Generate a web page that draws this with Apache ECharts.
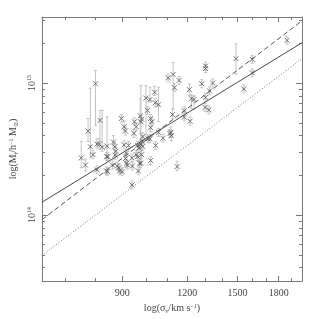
<!DOCTYPE html>
<html><head><meta charset="utf-8">
<script src="https://cdn.jsdelivr.net/npm/echarts@6/dist/echarts.min.js"></script>
<style>html,body{margin:0;padding:0;background:#fff}#c{width:319px;height:319px}</style>
</head><body><div id="c"></div>
<script>
// velocity dispersion sigma_v (km/s)
const sigma = [
  800,774,816,782,791,805,814,824,842,751,
  765,840,845,805,840,844,866,871,875,872,
  862,881,887,890,900,897,908,913,908,917,
  913,918,921,926,940,942,948,950,958,975,
  981,978,964,970,978,983,986,958,964,972,
  978,981,986,967,940,1009,1018,1021,1027,1021,
  1000,1018,1007,1039,1042,1057,1044,1021,1078,1057,
  1116,1119,1112,1125,1103,1128,1158,1135,1185,1185,
  1216,1212,1223,1237,1280,1302,1302,1325,1302,1299,
  1321,1148,1344,1490,1601,1601,1542,1868
];
// total mass in units of 1e14 h^-1 Msun
const mass = [
  9.88,4.33,5.21,3.29,2.87,3.45,3.45,3.26,3.33,2.71,
  2.39,2.77,2.77,2.20,2.16,2.13,3.57,3.29,3.04,2.84,
  2.39,2.35,2.28,2.16,2.13,5.39,4.67,4.33,3.40,2.94,
  2.68,2.47,2.39,3.37,2.71,2.35,4.16,5.09,4.67,5.64,
  5.32,5.09,3.37,3.22,3.45,3.61,3.31,2.87,2.77,2.47,
  2.47,2.87,3.93,2.16,1.69,3.78,3.78,4.59,5.09,5.39,
  7.69,7.50,6.21,8.52,7.09,6.85,3.37,2.59,3.82,4.23,
  4.23,4.00,4.14,5.77,10.95,11.61,10.47,9.22,6.18,5.51,
  5.14,8.91,7.60,7.50,9.88,13.46,12.88,8.72,7.77,6.54,
  6.26,2.33,10.0,15.29,15.11,11.94,9.02,21.04
];
// upper / lower errors in dex
const errUp = [
  .10,.095,.077,.443,.03,.04,.04,.28,.222,.125,
  .045,.03,.03,.03,.03,.03,.05,.03,.03,.03,
  .03,.03,.03,.03,.03,.03,.04,.03,.03,.03,
  .03,.03,.03,.03,.03,.03,.03,.03,.03,.129,
  .03,.273,.03,.03,.03,.03,.03,.03,.03,.03,
  .03,.03,.03,.03,.03,.03,.03,.03,.03,.03,
  .094,.093,.03,.045,.03,.132,.03,.03,.03,.03,
  .04,.04,.03,.04,.03,.09,.03,.03,.03,.03,
  .03,.043,.03,.03,.03,.03,.03,.03,.03,.03,
  .03,.04,.03,.112,.03,.03,.03,.03
];
const errDn = [
  .316,.079,.157,.084,.03,.03,.03,.03,.09,.075,
  .045,.03,.03,.03,.03,.03,.03,.03,.03,.03,
  .03,.03,.03,.03,.03,.03,.03,.03,.03,.03,
  .03,.03,.03,.03,.03,.03,.03,.03,.03,.132,
  .03,.274,.03,.03,.03,.03,.03,.03,.03,.03,
  .03,.03,.03,.03,.03,.03,.03,.03,.03,.03,
  .279,.02,.03,.025,.03,.129,.03,.03,.03,.03,
  .04,.04,.03,.03,.03,.259,.03,.03,.03,.03,
  .03,.045,.075,.075,.03,.03,.03,.03,.03,.03,
  .03,.03,.03,.117,.03,.03,.03,.03
];
// fit lines (sigma, mass/1e14)
const fitSolid  = [[631, 1.25], [1995, 20.2]];
const fitDashed = [[631, 0.923], [1995, 29.6]];
const fitDotted = [[631, 0.494], [1995, 15.3]];
// ticks
const xMajorTicks = [900, 1200, 1500, 1800];
const xMinorTicks = [700, 800, 1000, 1100, 1300, 1400, 1600, 1700, 1900];
const yMajorTicks = [1, 10];
const yMajorExp = ['14', '15'];
const yMinorTicks = [0.4,0.5,0.6,0.7,0.8,0.9,2,3,4,5,6,7,8,9,20,30];

const XMIN = Math.pow(10, 2.8), XMAX = Math.pow(10, 3.3);
const YMIN = Math.pow(10, -0.5), YMAX = Math.pow(10, 1.5);
const FRAME = '#7a7a7a', TXT = '#444';
const FONT = "'Liberation Serif','DejaVu Serif',serif";

function xAx(pos, ticks, len, major) {
  return {
    type: 'log', logBase: 10, min: XMIN, max: XMAX, position: pos,
    axisLine: {show: major, onZero: false, lineStyle: {color: FRAME, width: 1}},
    axisTick: {show: true, inside: true, length: len, customValues: ticks, lineStyle: {color: FRAME}},
    axisLabel: (major && pos === 'bottom') ? {
      show: true, customValues: ticks, color: TXT, fontFamily: FONT, fontSize: 10, margin: 7,
      formatter: v => String(Math.round(v))
    } : {show: false},
    splitLine: {show: false}, minorTick: {show: false},
    name: (major && pos === 'bottom') ? 'log(σ{sub|v}/km s{sup|−1})' : '',
    nameLocation: 'middle', nameGap: 20,
    nameTextStyle: {color: TXT, fontFamily: FONT, fontSize: 10,
      rich: {sub: {fontSize: 6, fontFamily: FONT, color: TXT, padding: [5,0,0,0]},
             sup: {fontSize: 6, fontFamily: FONT, color: TXT, padding: [0,0,5,0]}}}
  };
}
function yAx(pos, ticks, len, major) {
  return {
    type: 'log', logBase: 10, min: YMIN, max: YMAX, position: pos,
    axisLine: {show: major, onZero: false, lineStyle: {color: FRAME, width: 1}},
    axisTick: {show: true, inside: true, length: len, customValues: ticks, lineStyle: {color: FRAME}},
    axisLabel: (major && pos === 'left') ? {
      show: true, customValues: ticks, rotate: 90, color: TXT, fontFamily: FONT, fontSize: 10, margin: 4,
      formatter: v => '{b|10}{s|' + yMajorExp[yMajorTicks.indexOf(Math.round(v))] + '}',
      rich: {b: {fontSize: 10, fontFamily: FONT, color: TXT},
             s: {fontSize: 6, fontFamily: FONT, color: TXT, padding: [0,0,5,0]}}
    } : {show: false},
    splitLine: {show: false}, minorTick: {show: false},
    name: (major && pos === 'left') ? 'log(M{sub|t}/h{sup|−1} M{sub|⊙})' : '',
    nameLocation: 'middle', nameGap: 20,
    nameTextStyle: {color: TXT, fontFamily: FONT, fontSize: 10,
      rich: {sub: {fontSize: 6, fontFamily: FONT, color: TXT, padding: [5,0,0,0]},
             sup: {fontSize: 6, fontFamily: FONT, color: TXT, padding: [0,0,5,0]}}}
  };
}

const errData = sigma.map((s, i) => [s, mass[i] * Math.pow(10, -errDn[i]), mass[i] * Math.pow(10, errUp[i])]);
const ptData = sigma.map((s, i) => [s, mass[i]]);

const chart = echarts.init(document.getElementById('c'), null, {renderer: 'canvas'});
chart.setOption({
  animation: false,
  backgroundColor: '#fff',
  grid: {left: 34, top: 17, right: 17, bottom: 34, containLabel: false},
  xAxis: [xAx('bottom', xMajorTicks, 5, true), xAx('bottom', xMinorTicks, 3, false),
          xAx('top', xMajorTicks, 5, true), xAx('top', xMinorTicks, 3, false)],
  yAxis: [yAx('left', yMajorTicks, 6, true), yAx('left', yMinorTicks, 3, false),
          yAx('right', yMajorTicks, 6, true), yAx('right', yMinorTicks, 3, false)],
  series: [
    {
      type: 'custom', xAxisIndex: 0, yAxisIndex: 0, data: errData, encode: {x: 0, y: [1, 2]},
      renderItem: (params, api) => {
        const x = api.value(0);
        const p1 = api.coord([x, api.value(1)]);
        const p2 = api.coord([x, api.value(2)]);
        const c = 1.5;
        return {type: 'group', children: [
          {type: 'line', shape: {x1: p1[0], y1: p1[1], x2: p2[0], y2: p2[1]}, style: {stroke: '#c4c4c4', lineWidth: 1}},
          {type: 'line', shape: {x1: p1[0]-c, y1: p1[1], x2: p1[0]+c, y2: p1[1]}, style: {stroke: '#c4c4c4', lineWidth: 1}},
          {type: 'line', shape: {x1: p2[0]-c, y1: p2[1], x2: p2[0]+c, y2: p2[1]}, style: {stroke: '#c4c4c4', lineWidth: 1}}
        ]};
      }
    },
    {type: 'line', data: fitSolid, showSymbol: false, lineStyle: {color: '#4a4a4a', width: 1, type: 'solid'}},
    {type: 'line', data: fitDashed, showSymbol: false, lineStyle: {color: '#555', width: 1, type: [5, 3]}},
    {type: 'line', data: fitDotted, showSymbol: false, lineStyle: {color: '#777', width: 1, type: [1, 2]}},
    {
      type: 'scatter', data: ptData, symbol: 'path://M0,0L10,10M10,0L0,10', symbolSize: 5,
      itemStyle: {color: 'none', borderColor: '#555', borderWidth: 1}
    }
  ]
});
</script>
</body></html>
